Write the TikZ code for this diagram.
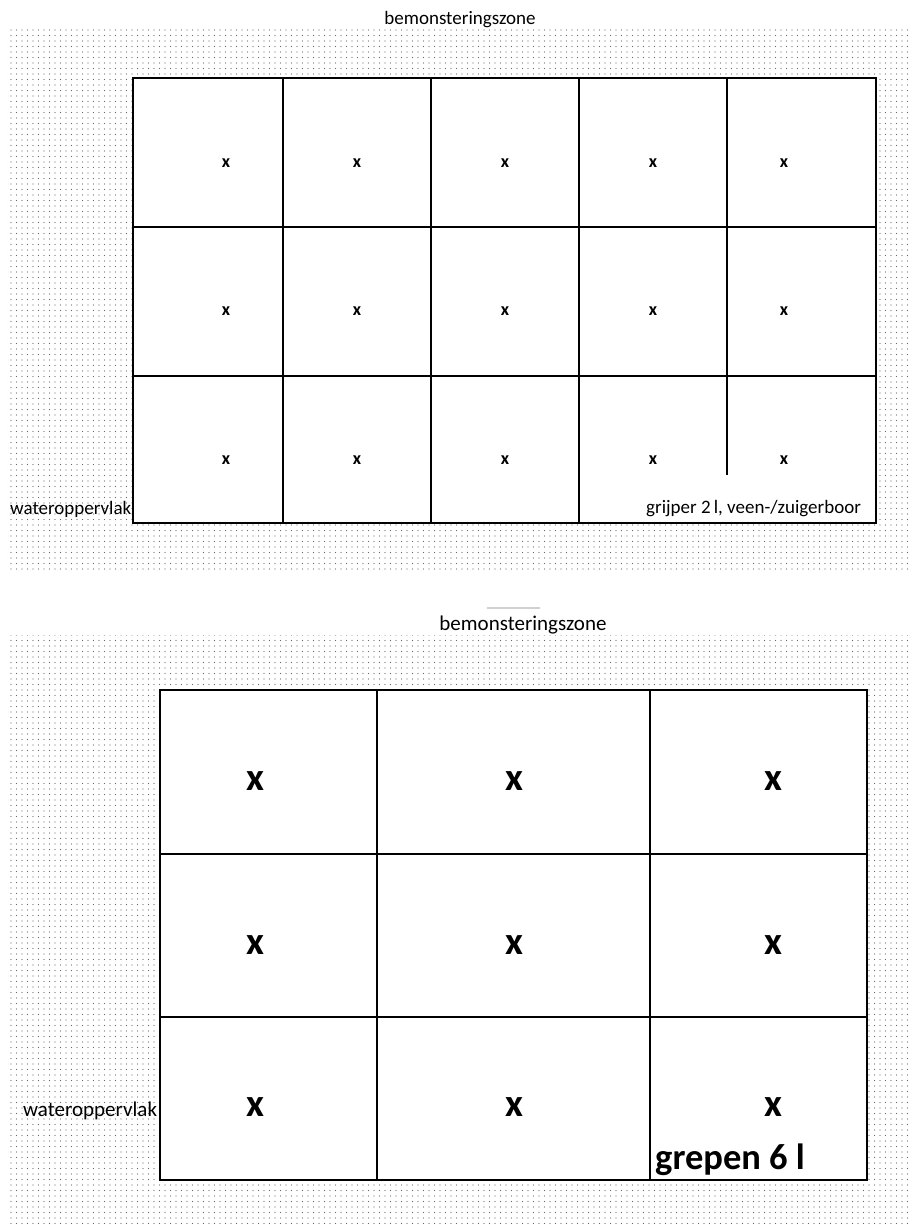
\documentclass[tikz,border=0pt]{standalone}
\usepackage{fontspec}
\setmainfont{Carlito}
\usetikzlibrary{patterns.meta}
\tikzset{
  zone/.style={pattern={Dots[distance=5.5bp,radius=0.6bp]},pattern color=black!60},
  gridthin/.style={line width=2bp,black},
  gridthick/.style={line width=2.6bp,black},
  smallx/.style={inner sep=0pt,font=\fontsize{18bp}{20bp}\selectfont\bfseries},
  bigx/.style={inner sep=0pt,font=\fontsize{39bp}{42bp}\selectfont\bfseries},
  lbl/.style={inner sep=0pt,font=\fontsize{19bp}{22bp}\selectfont},
  lbllarge/.style={inner sep=0pt,font=\fontsize{21bp}{24bp}\selectfont},
  biglbl/.style={inner sep=0pt,font=\fontsize{36.5bp}{40bp}\selectfont\bfseries}
}
\begin{document}
\begin{tikzpicture}[x=1bp,y=-1bp]
\useasboundingbox (0,0) rectangle (914,1229);
% ---------- upper panel ----------
\path[zone] (6,29) rectangle (912,572);
\fill[white] (133,78) rectangle (876,523);
\draw[gridthin] (133,78) rectangle (876,523);
\foreach \x in {283,431,579} \draw[gridthin] (\x,78) -- (\x,523);
\draw[gridthin] (727,78) -- (727,475);
\foreach \y in {227,376} \draw[gridthin] (133,\y) -- (876,\y);
\foreach \y [count=\r] in {163,311,460} {
  \foreach \x [count=\c] in {226,357,505,653,784} {
    \node[smallx] (ux\r\c) at (\x,\y) {x};
  }
}
\node[lbl,anchor=base] (utitle) at (460,24) {bemonsteringszone};
\node[lbl,anchor=base west] (uwater) at (10,514) {wateroppervlak};
\node[lbl,anchor=base west] (ugrijper) at (646,513) {grijper 2\,l, veen-/zuigerboor};
% ---------- lower panel ----------
\draw[black!18,line width=1.5bp] (487,608) -- (540,608);
\path[zone] (10,635) rectangle (912,1227);
\fill[white] (160,690) rectangle (867,1180);
\draw[gridthick] (160,690) rectangle (867,1180);
\foreach \x in {377,650} \draw[gridthick] (\x,690) -- (\x,1180);
\foreach \y in {854,1017} \draw[gridthick] (160,\y) -- (867,\y);
\foreach \y [count=\r] in {781,945,1107} {
  \foreach \x [count=\c] in {255,514,773} {
    \node[bigx] (lx\r\c) at (\x,\y) {x};
  }
}
\node[lbllarge,anchor=base] (ltitle) at (523,630) {bemonsteringszone};
\node[lbllarge,anchor=base west] (lwater) at (23,1116) {wateroppervlak};
\node[biglbl,anchor=base west] (lgrepen) at (655,1169) {grepen 6 l};
\end{tikzpicture}
\end{document}
